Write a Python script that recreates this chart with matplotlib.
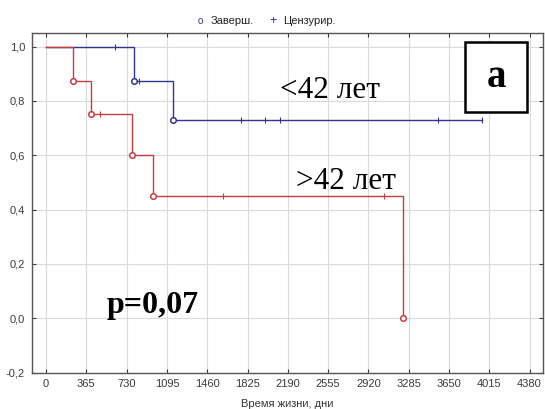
import matplotlib
matplotlib.use("Agg")
import matplotlib.pyplot as plt
from matplotlib.patches import Rectangle

# Group <42 years (blue)
young_step_t = [0, 794, 1148, 3946]
young_step_s = [1.0, 0.875, 0.729, 0.729]
young_event_t = [794, 1148]
young_event_s = [0.875, 0.729]
young_cens_t = [628, 845, 1769, 1986, 2122, 3553, 3946]
young_cens_s = [1.0, 0.875, 0.729, 0.729, 0.729, 0.729, 0.729]

# Group >42 years (red)
old_step_t = [0, 247, 408, 781, 972, 3236]
old_step_s = [1.0, 0.875, 0.75, 0.60, 0.45, 0.0]
old_event_t = [247, 408, 781, 972, 3236]
old_event_s = [0.875, 0.75, 0.60, 0.45, 0.0]
old_cens_t = [492, 1606, 3061]
old_cens_s = [0.75, 0.45, 0.45]

xticks = [0, 365, 730, 1095, 1460, 1825, 2190, 2555, 2920, 3285, 3650, 4015, 4380]
yticks = [-0.2, 0.0, 0.2, 0.4, 0.6, 0.8, 1.0]

blue = "#34348f"
red = "#c43c44"
sans = ["Liberation Sans", "DejaVu Sans"]
serif = ["Liberation Serif", "DejaVu Serif"]

fig = plt.figure(figsize=(5.45, 4.09), dpi=100)
ax = fig.add_axes([32/545, 1-372.5/409, 510.5/545, 339.5/409])

ax.step(young_step_t, young_step_s, where="post", color=blue, lw=1.0, zorder=3)
ax.plot(young_event_t, young_event_s, "o", ms=4, mfc="white", mec=blue, mew=1.1, zorder=4)
ax.plot(young_cens_t, young_cens_s, "|", ms=5, color=blue, mew=0.8, zorder=4)

ax.step(old_step_t, old_step_s, where="post", color=red, lw=1.0, zorder=3.5)
ax.plot(old_event_t, old_event_s, "o", ms=4, mfc="white", mec=red, mew=1.1, zorder=4)
ax.plot(old_cens_t, old_cens_s, "|", ms=5, color=red, mew=0.8, zorder=4)

ax.set_xlim(-127, 4497)
ax.set_ylim(-0.2, 1.05)
ax.set_xticks(xticks)
ax.set_xticklabels([str(v) for v in xticks], family=sans)
ax.set_yticks(yticks)
ax.set_yticklabels([f"{v:.1f}".replace(".", ",") for v in yticks], family=sans)
ax.tick_params(direction="in", length=3, labelsize=8, colors="#3a3a3a",
               top=True, right=True, width=0.8, pad=5)
ax.grid(True, color="#dadada", lw=0.8, zorder=0)
for s in ax.spines.values():
    s.set_color("#555555")
    s.set_linewidth(1.0)
ax.set_xlabel("Время жизни, дни", fontsize=8, color="#333333", labelpad=7, family=sans)

ax.text(2122, 0.837, "<42 лет", fontsize=22.5, family=serif, va="center", ha="left", zorder=5)
ax.text(2264, 0.505, ">42 лет", fontsize=22.5, family=serif, va="center", ha="left", zorder=5)
ax.text(552, 0.045, "p=0,07", fontsize=23, family=serif, weight="bold", va="center", ha="left", zorder=5)

ax.add_patch(Rectangle((3795, 0.759), 562, 0.258, fc="white", ec="black", lw=1.8, zorder=5))
ax.text(4076, 0.885, "a", fontsize=28, family=serif, weight="bold",
        ha="center", va="center", zorder=6)

# legend
fig.text(0.367, 0.949, "o", fontsize=7, color=blue, ha="center", va="center", family=sans)
fig.text(0.387, 0.949, "Заверш.", fontsize=8, color="#222222", ha="left", va="center", family=sans)
fig.text(0.501, 0.949, "+", fontsize=9, color="#2a2aa0", ha="center", va="center", family=sans)
fig.text(0.519, 0.949, "Цензурир.", fontsize=8, color="#222222", ha="left", va="center", family=sans)

fig.savefig("out.png", dpi=100)
